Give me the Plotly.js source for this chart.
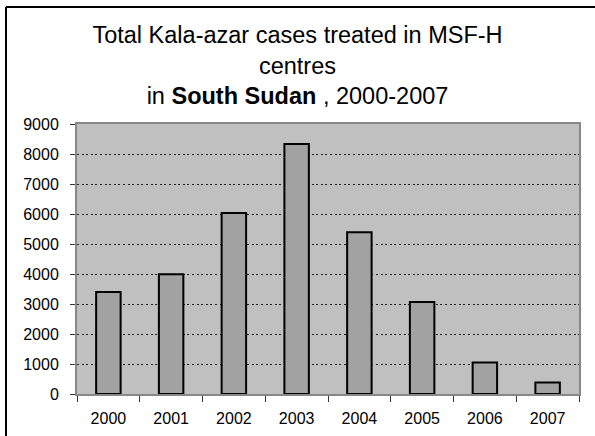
<!DOCTYPE html>
<html>
<head>
<meta charset="utf-8">
<script src="https://cdn.plot.ly/plotly-3.0.1.min.js"></script>
<style>
html,body{margin:0;padding:0;background:#fff;}
#chart{width:595px;height:436px;}
</style>
</head>
<body>
<div id="chart"></div>
<script>
const years = ["2000","2001","2002","2003","2004","2005","2006","2007"];
const cases = [3400, 3990, 6030, 8330, 5390, 3070, 1050, 380];
const yTicks = [0,1000,2000,3000,4000,5000,6000,7000,8000,9000];

const FONT = '"Liberation Sans", Arial, Helvetica, sans-serif';

const trace = {
  type: 'bar',
  x: years,
  y: cases,
  width: 0.39,
  marker: {color: '#a2a2a2', line: {color: '#000000', width: 2}},
  hoverinfo: 'x+y'
};

const layout = {
  width: 595,
  height: 436,
  margin: {l: 77, r: 16, t: 124, b: 42, pad: 0},
  paper_bgcolor: '#ffffff',
  plot_bgcolor: '#c0c0c0',
  font: {family: FONT, color: '#000', size: 16},
  showlegend: false,
  title: {
    text: 'Total Kala-azar cases treated in MSF-H<br>centres<br>in <b>South Sudan</b> , 2000-2007',
    font: {family: FONT, size: 23.5, color: '#000'},
    x: 0.5, xref: 'container', xanchor: 'center',
    y: 1 - 43/436, yref: 'container', yanchor: 'top'
  },
  xaxis: {
    type: 'category',
    tickson: 'boundaries',
    ticks: 'outside',
    ticklen: 6,
    tickcolor: '#333',
    tickwidth: 1,
    showgrid: false,
    showline: true,
    linecolor: '#888',
    linewidth: 2,
    mirror: true,
    tickfont: {family: FONT, size: 16, color: '#000'},
    ticklabelstandoff: 9
  },
  yaxis: {
    range: [0, 9000],
    tickvals: yTicks,
    ticktext: yTicks.map(String),
    ticks: 'outside',
    ticklen: 5,
    tickcolor: '#333',
    tickwidth: 1,
    showgrid: true,
    gridcolor: '#222',
    gridwidth: 1,
    griddash: '2px,2.6px',
    showline: true,
    linecolor: '#888',
    linewidth: 2,
    mirror: true,
    zeroline: false,
    tickfont: {family: FONT, size: 16, color: '#000'},
    ticklabelstandoff: 8
  },
  shapes: [
    {type: 'line', xref: 'paper', yref: 'paper',
     x0: (6-77)/502, x1: (596-77)/502, y0: (394-7)/270, y1: (394-7)/270,
     line: {color: '#000', width: 2}},
    {type: 'line', xref: 'paper', yref: 'paper',
     x0: (6-77)/502, x1: (6-77)/502, y0: (394-7)/270, y1: (394-437)/270,
     line: {color: '#000', width: 2}}
  ]
};

Plotly.newPlot('chart', [trace], layout, {displayModeBar: false, staticPlot: true});
</script>
</body>
</html>
